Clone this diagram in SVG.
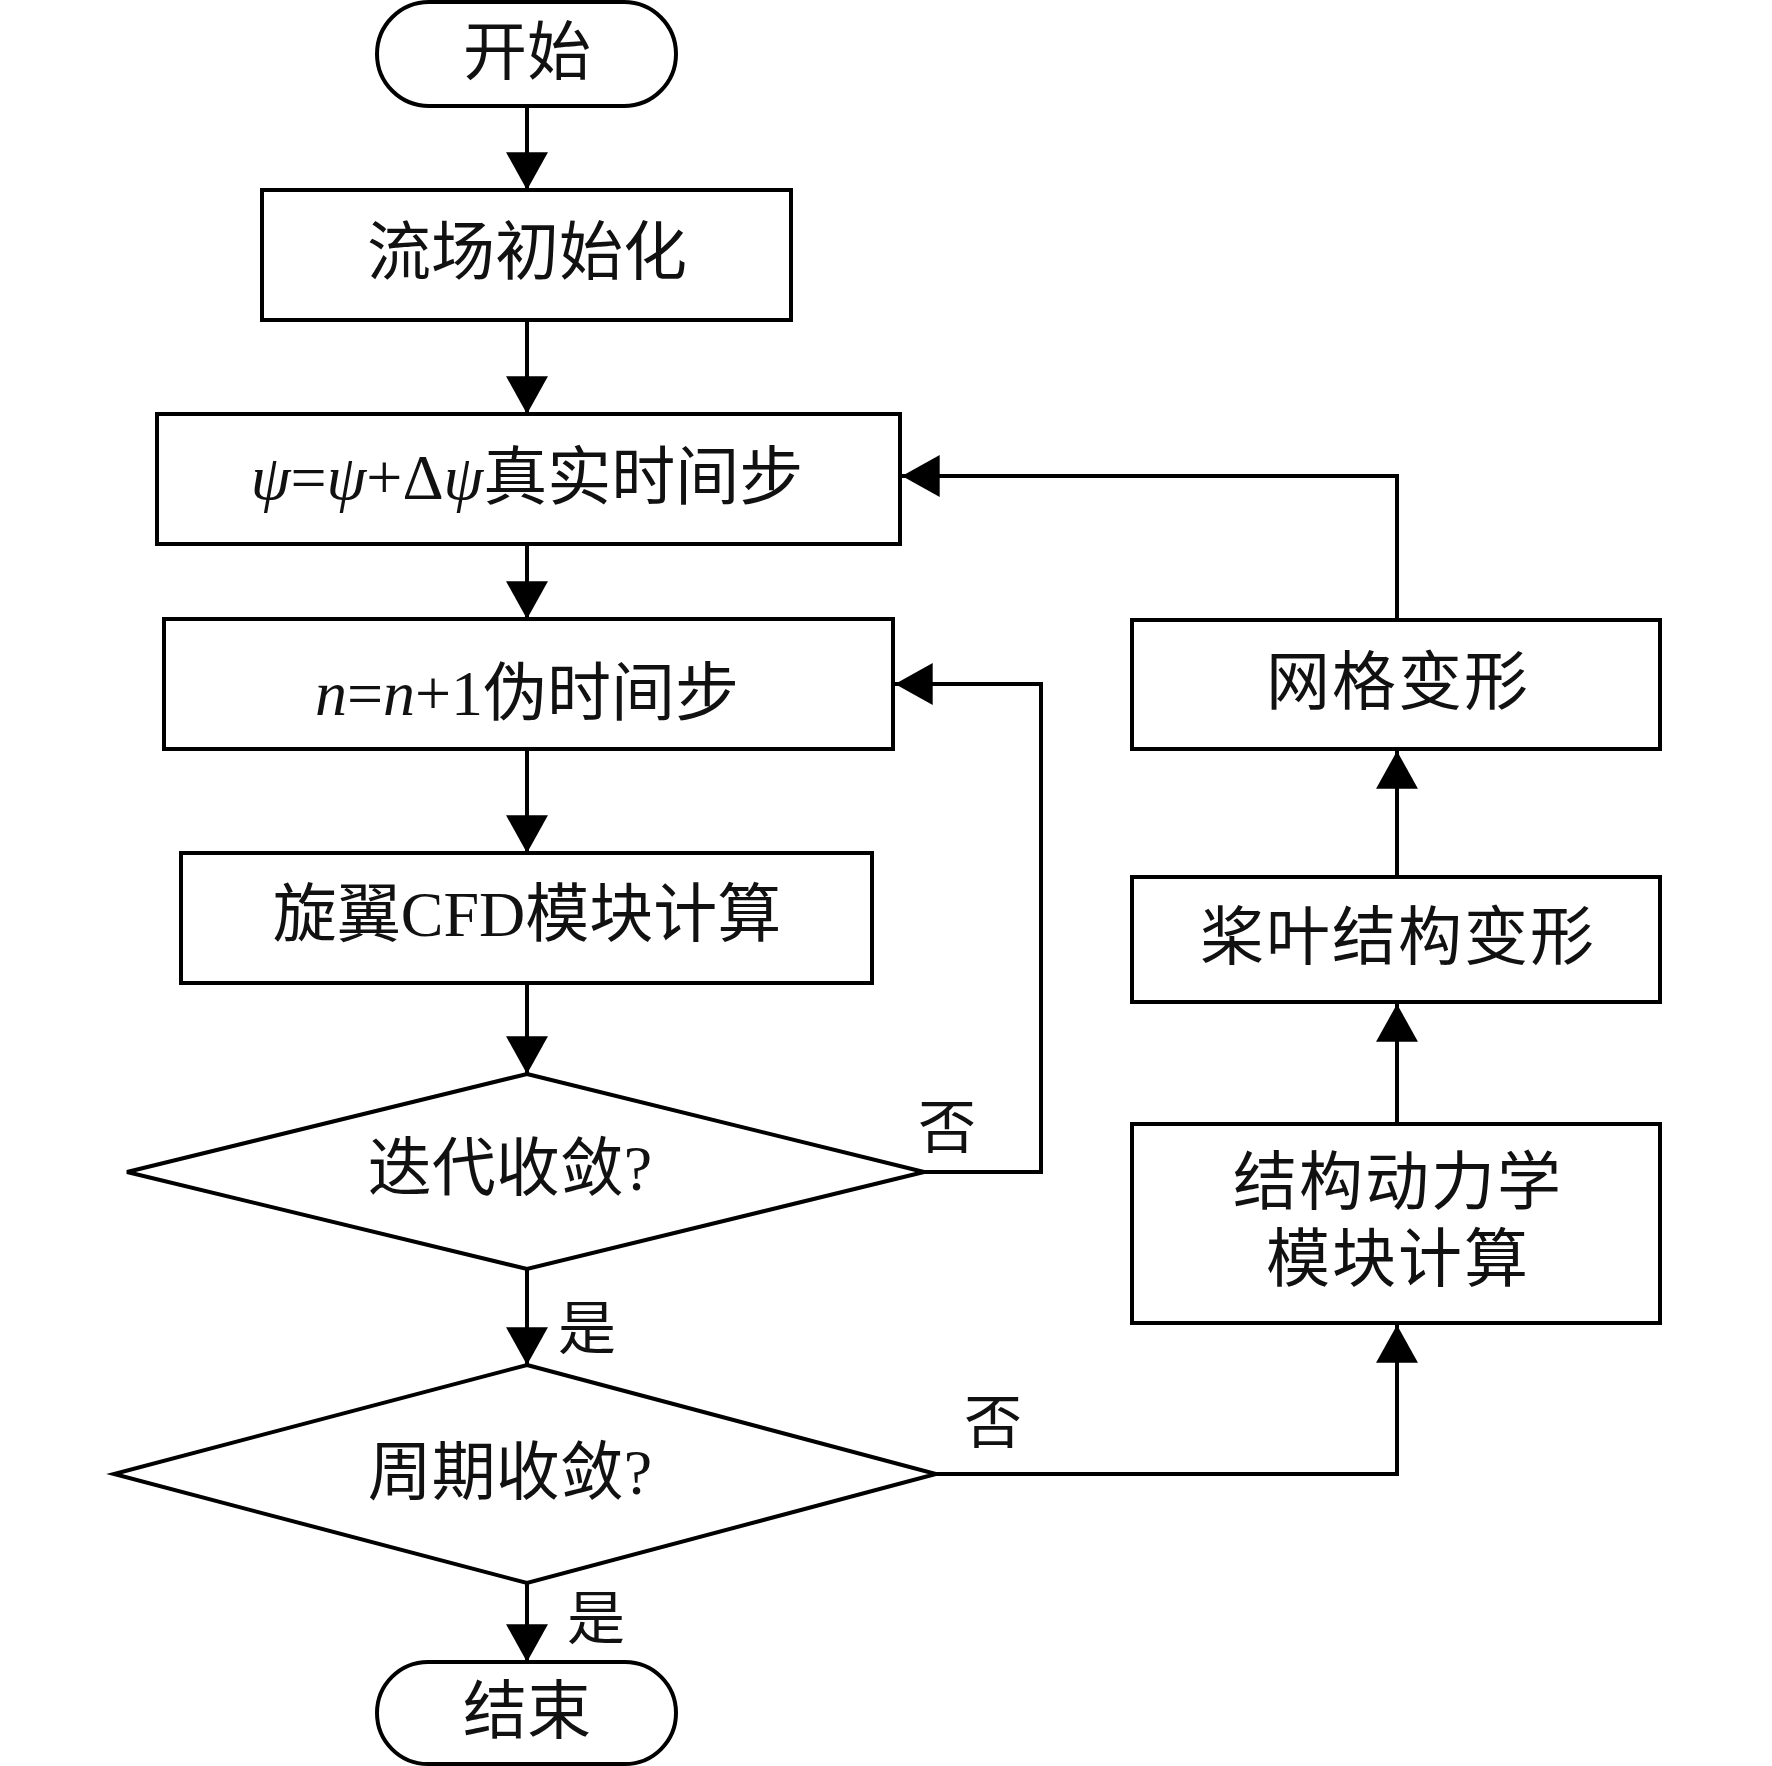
<svg xmlns="http://www.w3.org/2000/svg" width="1772" height="1766" viewBox="0 0 1772 1766">
<defs>
<style>
.n{fill:none;stroke:#000;stroke-width:4}
.c{fill:none;stroke:#000;stroke-width:4}
.t{font-family:"Liberation Serif","Noto Sans CJK SC",serif;font-size:64px;fill:#111;text-anchor:middle}
.r{letter-spacing:2px}
.l{font-family:"Liberation Serif","Noto Sans CJK SC",serif;font-size:58px;fill:#111;text-anchor:middle}
.i{font-style:italic}
</style>
<marker id="ah" markerUnits="userSpaceOnUse" markerWidth="42" markerHeight="44" viewBox="0 0 38 42" refX="36" refY="21" orient="auto">
<path d="M0,1 L36,21 L0,41 Z" fill="#000"/>
</marker>
</defs>
<rect width="1772" height="1766" fill="#fff"/>
<g id="connectors">
<line class="c" x1="527" y1="106" x2="527" y2="190" marker-end="url(#ah)"/>
<line class="c" x1="527" y1="320" x2="527" y2="414" marker-end="url(#ah)"/>
<line class="c" x1="527" y1="544" x2="527" y2="619" marker-end="url(#ah)"/>
<line class="c" x1="527" y1="749" x2="527" y2="853" marker-end="url(#ah)"/>
<line class="c" x1="527" y1="983" x2="527" y2="1074" marker-end="url(#ah)"/>
<line class="c" x1="527" y1="1269" x2="527" y2="1365" marker-end="url(#ah)"/>
<line class="c" x1="527" y1="1583" x2="527" y2="1662" marker-end="url(#ah)"/>
<polyline class="c" points="924,1172 1041,1172 1041,684 895,684" marker-end="url(#ah)"/>
<polyline class="c" points="936,1474 1397,1474 1397,1325" marker-end="url(#ah)"/>
<line class="c" x1="1397" y1="1124" x2="1397" y2="1004" marker-end="url(#ah)"/>
<line class="c" x1="1397" y1="877" x2="1397" y2="751" marker-end="url(#ah)"/>
<polyline class="c" points="1397,620 1397,476 902,476" marker-end="url(#ah)"/>
<text class="l" x="947" y="1148">否</text>
<text class="l" x="587" y="1349">是</text>
<text class="l" x="993" y="1443">否</text>
<text class="l" x="596" y="1639">是</text>
</g>
<g id="start">
<rect class="n" x="377" y="2" width="299" height="104" rx="52" ry="52"/>
<text class="t" x="527" y="74">开始</text>
</g>
<g id="init">
<rect class="n" x="262" y="190" width="529" height="130"/>
<text class="t" x="527" y="274">流场初始化</text>
</g>
<g id="realstep">
<rect class="n" x="157" y="414" width="743" height="130"/>
<text class="t" x="527" y="499"><tspan class="i">ψ</tspan>=<tspan class="i">ψ</tspan>+Δ<tspan class="i">ψ</tspan>真实时间步</text>
</g>
<g id="pseudostep">
<rect class="n" x="164" y="619" width="729" height="130"/>
<text class="t" x="527" y="715"><tspan class="i">n</tspan>=<tspan class="i">n</tspan>+1伪时间步</text>
</g>
<g id="cfd">
<rect class="n" x="181" y="853" width="691" height="130"/>
<text class="t" x="527" y="936">旋翼CFD模块计算</text>
</g>
<g id="iterconv">
<polygon class="n" points="527,1074 924,1172 527,1269 127,1172"/>
<text class="t" x="510" y="1190">迭代收敛?</text>
</g>
<g id="periodconv">
<polygon class="n" points="527,1365 936,1474 527,1583 114,1474"/>
<text class="t" x="510" y="1494">周期收敛?</text>
</g>
<g id="end">
<rect class="n" x="377" y="1662" width="299" height="102" rx="51" ry="51"/>
<text class="t" x="527" y="1733">结束</text>
</g>
<g id="mesh">
<rect class="n" x="1132" y="620" width="528" height="129"/>
<text class="t r" x="1398" y="704">网格变形</text>
</g>
<g id="bladedeform">
<rect class="n" x="1132" y="877" width="528" height="125"/>
<text class="t r" x="1398" y="959">桨叶结构变形</text>
</g>
<g id="structdyn">
<rect class="n" x="1132" y="1124" width="528" height="199"/>
<text class="t r" x="1398" y="1204">结构动力学</text>
<text class="t r" x="1398" y="1281">模块计算</text>
</g>
</svg>
